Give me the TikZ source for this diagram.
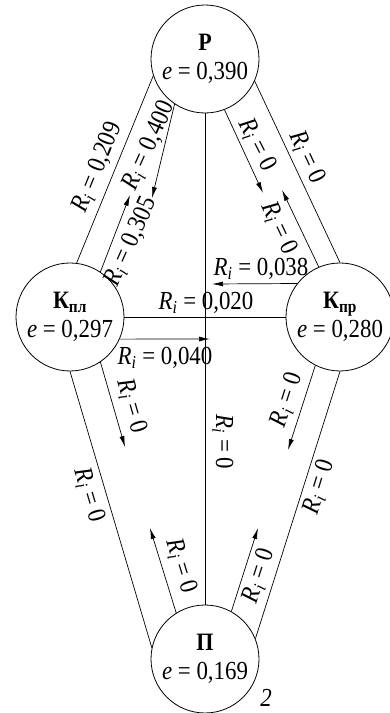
\documentclass[tikz,border=0pt]{standalone}
\usepackage{fontspec}
\setmainfont{Liberation Serif}[FakeStretch=0.88]
\usepackage{tikz}
\usetikzlibrary{arrows.meta}

\newcommand{\valfont}{\fontsize{26}{29}\selectfont}
\newcommand{\headfont}{\fontsize{25}{29}\selectfont\bfseries}
\newcommand{\Ri}{\textit{R}\textsubscript{\textit{i}}}

\tikzset{
  vertex/.style={circle, draw, line width=0.8pt, minimum size=108pt, inner sep=0pt, align=center, font=\valfont},
  edge/.style={line width=0.7pt},
  flow/.style={edge, -{Latex[length=11pt,width=5pt]}},
  lbl/.style={font=\valfont, inner sep=0pt},
}

\begin{document}
\begin{tikzpicture}[x=1pt,y=1pt]
  \fill[white] (0,0) rectangle (390,713);
  \useasboundingbox (0,0) rectangle (390,713);
  % states
  \node[vertex] (rtop) at (205,654) {{\headfont Р}\\\textit{e} = 0,390};
  \node[vertex] (kpl) at (70,396) {{\headfont К\textsubscript{пл}}\\\textit{e} = 0,297};
  \node[vertex] (kpr) at (340,396) {{\headfont К\textsubscript{пр}}\\\textit{e} = 0,280};
  \node[vertex] (pbot) at (205,54) {{\headfont П}\\\textit{e} = 0,169};
  % free ends of the arrows
  \coordinate (tA) at (130,518);
  \coordinate (tB) at (152,515);
  \coordinate (tC) at (263,520);
  \coordinate (tD) at (282,523);
  \coordinate (tE) at (212,429);
  \coordinate (tF) at (210,374);
  \coordinate (tG) at (125,266);
  \coordinate (tH) at (150,185);
  \coordinate (tI) at (288,263);
  \coordinate (tJ) at (258,185);
  % upper left
  \draw[edge] (kpl.83) -- (rtop.198);
  \draw[flow] (kpl.56) -- (tA);
  \draw[flow] (rtop.236) -- (tB);
  % upper right
  \draw[edge] (rtop.336) -- (kpr.90);
  \draw[flow] (rtop.291) -- (tC);
  \draw[flow] (kpr.113) -- (tD);
  % middle
  \draw[flow] (kpr.142) -- (tE);
  \draw[edge] (kpl.east) -- (kpr.west);
  \draw[flow] (kpl.336) -- (tF);
  \draw[edge] (rtop.south) -- (pbot.north);
  % lower left
  \draw[edge] (kpl.270) -- (pbot.168);
  \draw[flow] (kpl.304) -- (tG);
  \draw[flow] (pbot.122) -- (tH);
  % lower right
  \draw[edge] (kpr.270) -- (pbot.22);
  \draw[flow] (kpr.243) -- (tI);
  \draw[flow] (pbot.61) -- (tJ);
  % labels
  \node[lbl, rotate=68] (l209) at (97.5,545.5) {\Ri{} = 0,209};
  \node[lbl, rotate=66] (l400) at (149,567) {\Ri{} = 0,400};
  \node[lbl, rotate=66] (l305) at (131,471) {\Ri{} = 0,305};
  \node[lbl, rotate=-65] (lpr1) at (307,556) {\Ri{} = 0};
  \node[lbl, rotate=-63] (lpr2) at (257,568) {\Ri{} = 0};
  \node[lbl, rotate=-65] (lpr3) at (279,485) {\Ri{} = 0};
  \node[lbl] (l038) at (261,444) {\Ri{} = 0,038};
  \node[lbl] (l020) at (206,410) {\Ri{} = 0,020};
  \node[lbl] (l040) at (165,355) {\Ri{} = 0,040};
  \node[lbl, rotate=-90] (lmid) at (223,271) {\Ri{} = 0};
  \node[lbl, rotate=-73.5] (lpl1) at (89,218) {\Ri{} = 0};
  \node[lbl, rotate=-74] (lpl2) at (132,307) {\Ri{} = 0};
  \node[lbl, rotate=-73] (lpl3) at (181,147) {\Ri{} = 0};
  \node[lbl, rotate=73] (lpp1) at (319,226) {\Ri{} = 0};
  \node[lbl, rotate=72] (lpp2) at (287,313) {\Ri{} = 0};
  \node[lbl, rotate=72] (lpp3) at (259,137) {\Ri{} = 0};
  \node[font=\valfont\itshape] (fignum) at (266,15) {2};
\end{tikzpicture}
\end{document}
